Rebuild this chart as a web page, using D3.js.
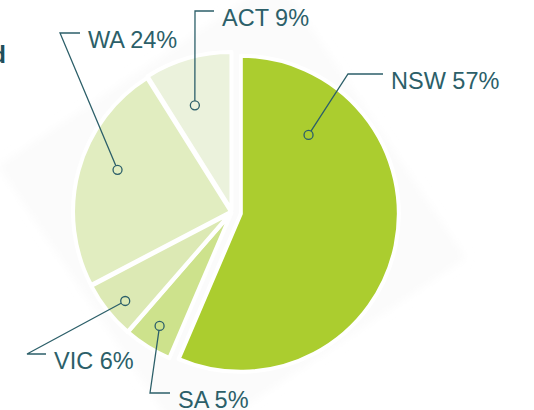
<!DOCTYPE html>
<html>
<head>
<meta charset="utf-8">
<script src="https://cdn.jsdelivr.net/npm/d3@7"></script>
<style>
	html, body { margin: 0; padding: 0; background: #fff; }
	svg { display: block; }
</style>
</head>
<body>
<svg id="state_share_svg"></svg>
<script>
// share of total by state, clockwise from 12 o'clock
const states = ["NSW", "SA", "VIC", "WA", "ACT"];
const shares = [57, 5, 6, 24, 9];

const width = 534;
const height = 410;
const cx = 232;
const cy = 212;
const radius = 158;

const colors = {
	"NSW": "#abcd2f",
	"SA": "#cde28c",
	"VIC": "#dce9b4",
	"WA": "#e1edc0",
	"ACT": "#ebf2dc"
};
const explode = { "NSW": 9, "SA": 1, "VIC": 1, "WA": 1, "ACT": 2 };

// callout layout: where the dot sits inside the slice (t = fraction of the slice angle, r = radius)
// then elbow and end of the leader line, relative to pie centre
const callouts = {
	"NSW": { t: 0.20, r: 104, elbow: [116, -138], end: [151, -138] },
	"SA":  { t: 0.52, r: 134, elbow: [-82, 181],  end: [-62, 181] },
	"VIC": { t: 0.43, r: 138, elbow: [-205, 142], end: [-186, 142] },
	"WA":  { t: 0.56, r: 121, elbow: [-172, -179], end: [-152, -179] },
	"ACT": { t: 0.40, r: 111, elbow: [-37, -201], end: [-18, -201] }
};

const ink = "#2c5f69";

const svg = d3.select("#state_share_svg")
	.attr("width", width)
	.attr("height", height);

// very faint drop shadow behind the pie
const defs = svg.append("defs");
defs.append("filter")
	.attr("id", "soft")
	.attr("x", "-20%").attr("y", "-20%").attr("width", "140%").attr("height", "140%")
	.append("feGaussianBlur")
	.attr("stdDeviation", 4);

svg.append("polygon")
	.attr("points", [[234, 46], [-46, 234], [-234, -46], [46, -234]]
		.map(p => `${cx + p[0]},${cy + p[1]}`).join(" "))
	.attr("fill", "#fbfbfb")
	.attr("filter", "url(#soft)");

// cut-off title fragment at the left edge
svg.append("text")
	.attr("x", 6)
	.attr("y", 63)
	.attr("text-anchor", "end")
	.style("font-family", "'Liberation Sans', Arial, sans-serif")
	.style("font-size", "24px")
	.style("font-weight", "bold")
	.style("fill", "#1f4f5b")
	.text("d");

const data = states.map((s, i) => ({ state: s, value: shares[i] }));

const pie = d3.pie()
	.sort(null)
	.value(d => d.value);

const arc = d3.arc()
	.innerRadius(0)
	.outerRadius(radius);

const pieData = pie(data);

const group = svg.append("g")
	.attr("transform", `translate(${cx}, ${cy})`);

function offset(d) {
	const mid = (d.startAngle + d.endAngle) / 2;
	const e = explode[d.data.state];
	return [Math.sin(mid) * e, -Math.cos(mid) * e];
}

const slices = group.selectAll(".slice")
	.data(pieData)
	.enter().append("g")
	.attr("class", "slice")
	.attr("transform", d => `translate(${offset(d)})`);

slices.append("path")
	.attr("d", arc)
	.attr("fill", d => colors[d.data.state])
	.attr("stroke", "#fff")
	.attr("stroke-width", 4)
	.attr("stroke-linejoin", "round");

// leader lines and labels
const labels = group.selectAll(".callout")
	.data(pieData)
	.enter().append("g")
	.attr("class", "callout");

function dotPos(d) {
	const c = callouts[d.data.state];
	const a = d.startAngle + c.t * (d.endAngle - d.startAngle);
	const o = offset(d);
	return [Math.sin(a) * c.r + o[0], -Math.cos(a) * c.r + o[1]];
}

labels.append("polyline")
	.attr("points", d => {
		const c = callouts[d.data.state];
		return [dotPos(d), c.elbow, c.end].map(p => p.join(",")).join(" ");
	})
	.attr("fill", "none")
	.attr("stroke", ink)
	.attr("stroke-width", 1.3);

labels.append("circle")
	.attr("cx", d => dotPos(d)[0])
	.attr("cy", d => dotPos(d)[1])
	.attr("r", 4.5)
	.attr("fill", d => colors[d.data.state])
	.attr("stroke", ink)
	.attr("stroke-width", 1.3);

labels.append("text")
	.attr("x", d => callouts[d.data.state].end[0] + 8)
	.attr("y", d => callouts[d.data.state].end[1] + 15)
	.style("font-family", "'Liberation Sans', Arial, sans-serif")
	.style("font-size", "23.5px")
	.style("font-weight", 300)
	.style("fill", ink)
	.text(d => `${d.data.state} ${d.data.value}%`);
</script>
</body>
</html>
